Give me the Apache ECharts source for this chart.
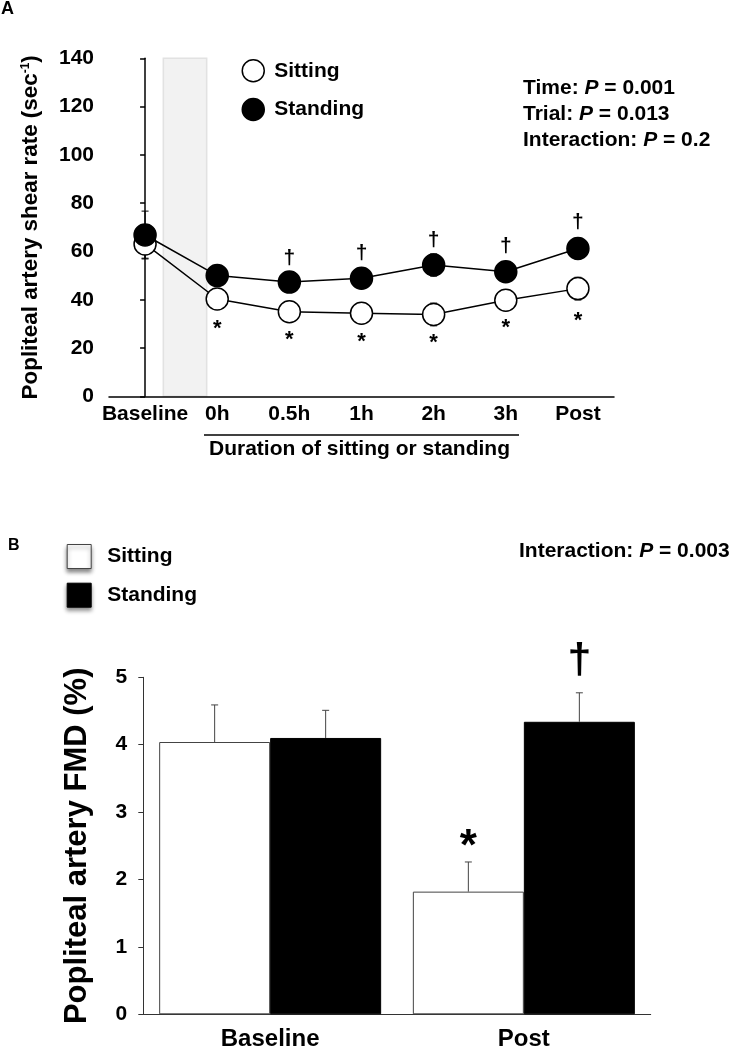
<!DOCTYPE html>
<html><head><meta charset="utf-8">
<script src="https://cdn.jsdelivr.net/npm/echarts@6/dist/echarts.min.js"></script>
<style>html,body{margin:0;padding:0;background:#fff}#c{width:737px;height:1050px}</style>
</head><body><div id="c"></div>
<script>
const FONT = "'Liberation Sans', Arial, Helvetica, sans-serif";

// ---------- Panel A data ----------
const categoriesA = ['Baseline', '0h', '0.5h', '1h', '2h', '3h', 'Post'];
const sittingShear = [63.1, 40.3, 35.0, 34.4, 33.9, 39.8, 44.6];
const standingShear = [66.8, 50.0, 47.3, 48.9, 54.4, 51.6, 61.2];
const sittingShearSE = [5.9, 4.0, 3.0, 3.0, 4.7, 3.0, 4.7];
const standingShearSE = [9.9, 3.0, 3.0, 3.0, 4.6, 3.0, 4.4];
const daggerShear = [null, null, 57.9, 59.9, 65.2, 62.7, 72.7];
const asteriskShear = [null, 30.1, 25.5, 24.8, 24.4, 30.4, 33.4];
const shadedBand = [0.253, 0.854]; // in category-index units, between Baseline and 0h
const statsA = ['Time: {i|P} = 0.001', 'Trial: {i|P} = 0.013', 'Interaction: {i|P} = 0.2'];

// ---------- Panel B data ----------
const categoriesB = ['Baseline', 'Post'];
const sittingFMD = [4.04, 1.82];
const standingFMD = [4.10, 4.34];
const sittingFMDSE = [0.55, 0.44];
const standingFMDSE = [0.41, 0.43];
const asteriskFMD = [null, 2.62];   // above sitting bars
const daggerFMD = [null, 5.28];     // above standing bars
const statsB = 'Interaction: {i|P} = 0.003';

const chart = echarts.init(document.getElementById('c'), null, {renderer: 'canvas'});

function errBarA(color) {
  return function (params, api) {
    const x = api.value(0), lo = api.value(1), hi = api.value(2);
    const p1 = api.coord([x, lo]), p2 = api.coord([x, hi]);
    const cw = 3.5, st = {stroke: color, lineWidth: 1};
    return {type: 'group', children: [
      {type: 'line', shape: {x1: p1[0], y1: p1[1], x2: p2[0], y2: p2[1]}, style: st},
      {type: 'line', shape: {x1: p1[0] - cw, y1: p1[1], x2: p1[0] + cw, y2: p1[1]}, style: st},
      {type: 'line', shape: {x1: p2[0] - cw, y1: p2[1], x2: p2[0] + cw, y2: p2[1]}, style: st}
    ]};
  };
}

function glyphSeries(xi, yi, values, glyph, fontSize, dyEm, side) {
  const data = [];
  values.forEach((v, i) => { if (v != null) data.push([i, v]); });
  return {
    type: 'custom', xAxisIndex: xi, yAxisIndex: yi, z: 10, silent: true,
    data: data, encode: {x: 0, y: 1},
    renderItem: function (params, api) {
      const p = api.coord([api.value(0), api.value(1)]);
      let dx = 0;
      if (side) dx = side * api.size([1, 0])[0] * 0.875 / 4;
      return {type: 'text', x: p[0] + dx, y: p[1] + dyEm * fontSize,
        style: {text: glyph, fontSize: fontSize, fontWeight: 'bold', fontFamily: FONT,
          fill: '#000', align: 'center', verticalAlign: 'middle'}};
    }
  };
}

function errBarB(side, seArr, valArr) {
  return {
    type: 'custom', xAxisIndex: 2, yAxisIndex: 1, z: 6, silent: true,
    data: valArr.map((v, i) => [i, v, v + seArr[i]]), encode: {x: 0, y: [1, 2]},
    renderItem: function (params, api) {
      const i = api.value(0);
      const p1 = api.coord([i, api.value(1)]), p2 = api.coord([i, api.value(2)]);
      const dx = side * api.size([1, 0])[0] * 0.875 / 4;
      const x = p1[0] + dx, cw = 3.5, st = {stroke: '#444', lineWidth: 1};
      return {type: 'group', children: [
        {type: 'line', shape: {x1: x, y1: p1[1], x2: x, y2: p2[1]}, style: st},
        {type: 'line', shape: {x1: x - cw, y1: p2[1], x2: x + cw, y2: p2[1]}, style: st}
      ]};
    }
  };
}

const axisTxt = {color: '#000', fontFamily: FONT, fontWeight: 'bold'};

const option = {
  animation: false,
  backgroundColor: '#fff',
  grid: [
    {left: 109, top: 58.3, width: 505, height: 338, outerBoundsMode: 'none'},
    {left: 143.3, top: 677.3, width: 507.4, height: 337, outerBoundsMode: 'none'}
  ],
  legend: [
    {
      left: 241.5, top: 59, orient: 'vertical', itemWidth: 22, itemHeight: 22, itemGap: 15.3,
      selectedMode: false, padding: 0,
      textStyle: {color: '#000', fontSize: 21, fontWeight: 'bold', fontFamily: FONT, padding: [0, 0, 0, 5]},
      data: [
        {name: 'Sitting', icon: 'circle', itemStyle: {color: '#fff', borderColor: '#000', borderWidth: 1.5}},
        {name: 'Standing', icon: 'circle', itemStyle: {color: '#000', borderColor: '#000', borderWidth: 1.5}}
      ]
    },
    {
      left: 66.7, top: 544, orient: 'vertical', itemWidth: 24, itemHeight: 24, itemGap: 13.7,
      selectedMode: false, padding: 0,
      textStyle: {color: '#000', fontSize: 21, fontWeight: 'bold', fontFamily: FONT, padding: [0, 0, 0, 11]},
      data: [
        {name: 'Sitting', icon: 'rect', itemStyle: {color: '#fff', borderColor: '#444', borderWidth: 1,
          shadowBlur: 4, shadowColor: 'rgba(0,0,0,0.45)', shadowOffsetY: 3}},
        {name: 'Standing', icon: 'rect', itemStyle: {color: '#000', borderColor: '#000', borderWidth: 1,
          shadowBlur: 4, shadowColor: 'rgba(0,0,0,0.45)', shadowOffsetY: 3}}
      ]
    }
  ],
  xAxis: [
    {
      type: 'category', gridIndex: 0, data: categoriesA, boundaryGap: true,
      axisLine: {lineStyle: {color: '#000', width: 1.5}},
      axisTick: {alignWithLabel: true, length: 5, lineStyle: {color: '#000', width: 1.5}},
      axisLabel: Object.assign({fontSize: 21, margin: 7, interval: 0}, axisTxt),
      splitLine: {show: false}
    },
    {type: 'value', gridIndex: 0, min: -0.5, max: 6.5, show: false},
    {
      type: 'category', gridIndex: 1, data: categoriesB, boundaryGap: true,
      axisLine: {lineStyle: {color: '#333', width: 1}},
      axisTick: {alignWithLabel: true, length: 4, lineStyle: {color: '#333', width: 1}},
      axisLabel: Object.assign({fontSize: 24, margin: 13, interval: 0}, axisTxt),
      splitLine: {show: false}
    }
  ],
  yAxis: [
    {
      type: 'value', gridIndex: 0, min: 0, max: 140, interval: 20,
      axisLine: {show: true, lineStyle: {color: '#000', width: 1.5}},
      axisTick: {show: true, length: 5, lineStyle: {color: '#000', width: 1.5}},
      axisLabel: Object.assign({fontSize: 21, margin: 15}, axisTxt),
      splitLine: {show: false},
      name: 'Popliteal artery shear rate (sec{sup|-1})', nameLocation: 'middle', nameRotate: 90, nameGap: 67,
      nameTextStyle: Object.assign({fontSize: 22.4, rich: {sup: {fontSize: 12, fontWeight: 'bold', fontFamily: FONT, color: '#000', verticalAlign: 'top'}}}, axisTxt)
    },
    {
      type: 'value', gridIndex: 1, min: 0, max: 5, interval: 1,
      axisLine: {show: true, lineStyle: {color: '#333', width: 1}},
      axisTick: {show: true, length: 5, lineStyle: {color: '#333', width: 1}},
      axisLabel: Object.assign({fontSize: 21, margin: 16}, axisTxt),
      splitLine: {show: false},
      name: 'Popliteal artery FMD (%)', nameLocation: 'middle', nameRotate: 90, nameGap: 50,
      nameTextStyle: Object.assign({fontSize: 31}, axisTxt)
    }
  ],
  series: [
    // grey shaded band between Baseline and 0h
    {
      type: 'custom', xAxisIndex: 1, yAxisIndex: 0, z: 0, silent: true,
      data: [[shadedBand[0], shadedBand[1]]],
      renderItem: function (params, api) {
        const a = api.coord([api.value(0), 140]);
        const b = api.coord([api.value(1), 0]);
        return {type: 'rect', shape: {x: a[0], y: a[1], width: b[0] - a[0], height: b[1] - a[1]},
          style: {fill: '#f2f2f2', stroke: '#e2e2e2', lineWidth: 1.5}};
      }
    },
    {type: 'custom', xAxisIndex: 0, yAxisIndex: 0, z: 3, silent: true,
      data: sittingShear.map((v, i) => [i, v - sittingShearSE[i], v + sittingShearSE[i]]),
      encode: {x: 0, y: [1, 2]}, renderItem: errBarA('#000')},
    {type: 'custom', xAxisIndex: 0, yAxisIndex: 0, z: 3, silent: true,
      data: standingShear.map((v, i) => [i, v - standingShearSE[i], v + standingShearSE[i]]),
      encode: {x: 0, y: [1, 2]}, renderItem: errBarA('#000')},
    {
      type: 'line', name: 'Sitting', xAxisIndex: 0, yAxisIndex: 0, data: sittingShear, z: 4,
      symbol: 'circle', symbolSize: 22, silent: true,
      itemStyle: {color: '#fff', borderColor: '#000', borderWidth: 1.5},
      lineStyle: {color: '#000', width: 1.5}
    },
    {
      type: 'line', name: 'Standing', xAxisIndex: 0, yAxisIndex: 0, data: standingShear, z: 5,
      symbol: 'circle', symbolSize: 22, silent: true,
      itemStyle: {color: '#000', borderColor: '#000', borderWidth: 1.5},
      lineStyle: {color: '#000', width: 1.5}
    },
    glyphSeries(0, 0, daggerShear, '\u2020', 21, 0.06, 0),
    glyphSeries(0, 0, asteriskShear, '*', 22, 0.23, 0),
    // Panel B bars
    {
      type: 'bar', name: 'Sitting', xAxisIndex: 2, yAxisIndex: 1, data: sittingFMD,
      barGap: '0%', barCategoryGap: '12.5%', silent: true, z: 4,
      itemStyle: {color: '#fff', borderColor: '#444', borderWidth: 1}
    },
    {
      type: 'bar', name: 'Standing', xAxisIndex: 2, yAxisIndex: 1, data: standingFMD,
      barGap: '0%', barCategoryGap: '12.5%', silent: true, z: 4,
      itemStyle: {color: '#000', borderColor: '#000', borderWidth: 1}
    },
    errBarB(-1, sittingFMDSE, sittingFMD),
    errBarB(1, standingFMDSE, standingFMD),
    glyphSeries(2, 1, asteriskFMD, '*', 44, 0.23, -1),
    glyphSeries(2, 1, daggerFMD, '\u2020', 43, 0.06, 1)
  ],
  graphic: [
    {type: 'text', left: 1, top: 0, style: {text: 'A', fontSize: 18, fontWeight: 'bold', fontFamily: FONT, fill: '#000'}},
    {type: 'text', left: 8, top: 538, style: {text: 'B', fontSize: 16, fontWeight: 'bold', fontFamily: FONT, fill: '#000'}},
    {type: 'text', left: 523, top: 75, style: {text: statsA.join('\n'), fontSize: 21, fontWeight: 'bold',
      fontFamily: FONT, fill: '#000', lineHeight: 26,
      rich: {i: {fontStyle: 'italic', fontWeight: 'bold', fontSize: 21, fontFamily: FONT, fill: '#000', lineHeight: 26}}}},
    {type: 'text', left: 519, top: 538, style: {text: statsB, fontSize: 21, fontWeight: 'bold',
      fontFamily: FONT, fill: '#000', lineHeight: 26,
      rich: {i: {fontStyle: 'italic', fontWeight: 'bold', fontSize: 21, fontFamily: FONT, fill: '#000', lineHeight: 26}}}},
    {type: 'line', shape: {x1: 204, y1: 435, x2: 519, y2: 435}, style: {stroke: '#000', lineWidth: 1.5}},
    {type: 'text', left: 209, top: 439, style: {text: 'Duration of sitting or standing', fontSize: 21,
      fontWeight: 'bold', fontFamily: FONT, fill: '#000'}}
  ]
};
chart.setOption(option);
</script>
</body></html>
